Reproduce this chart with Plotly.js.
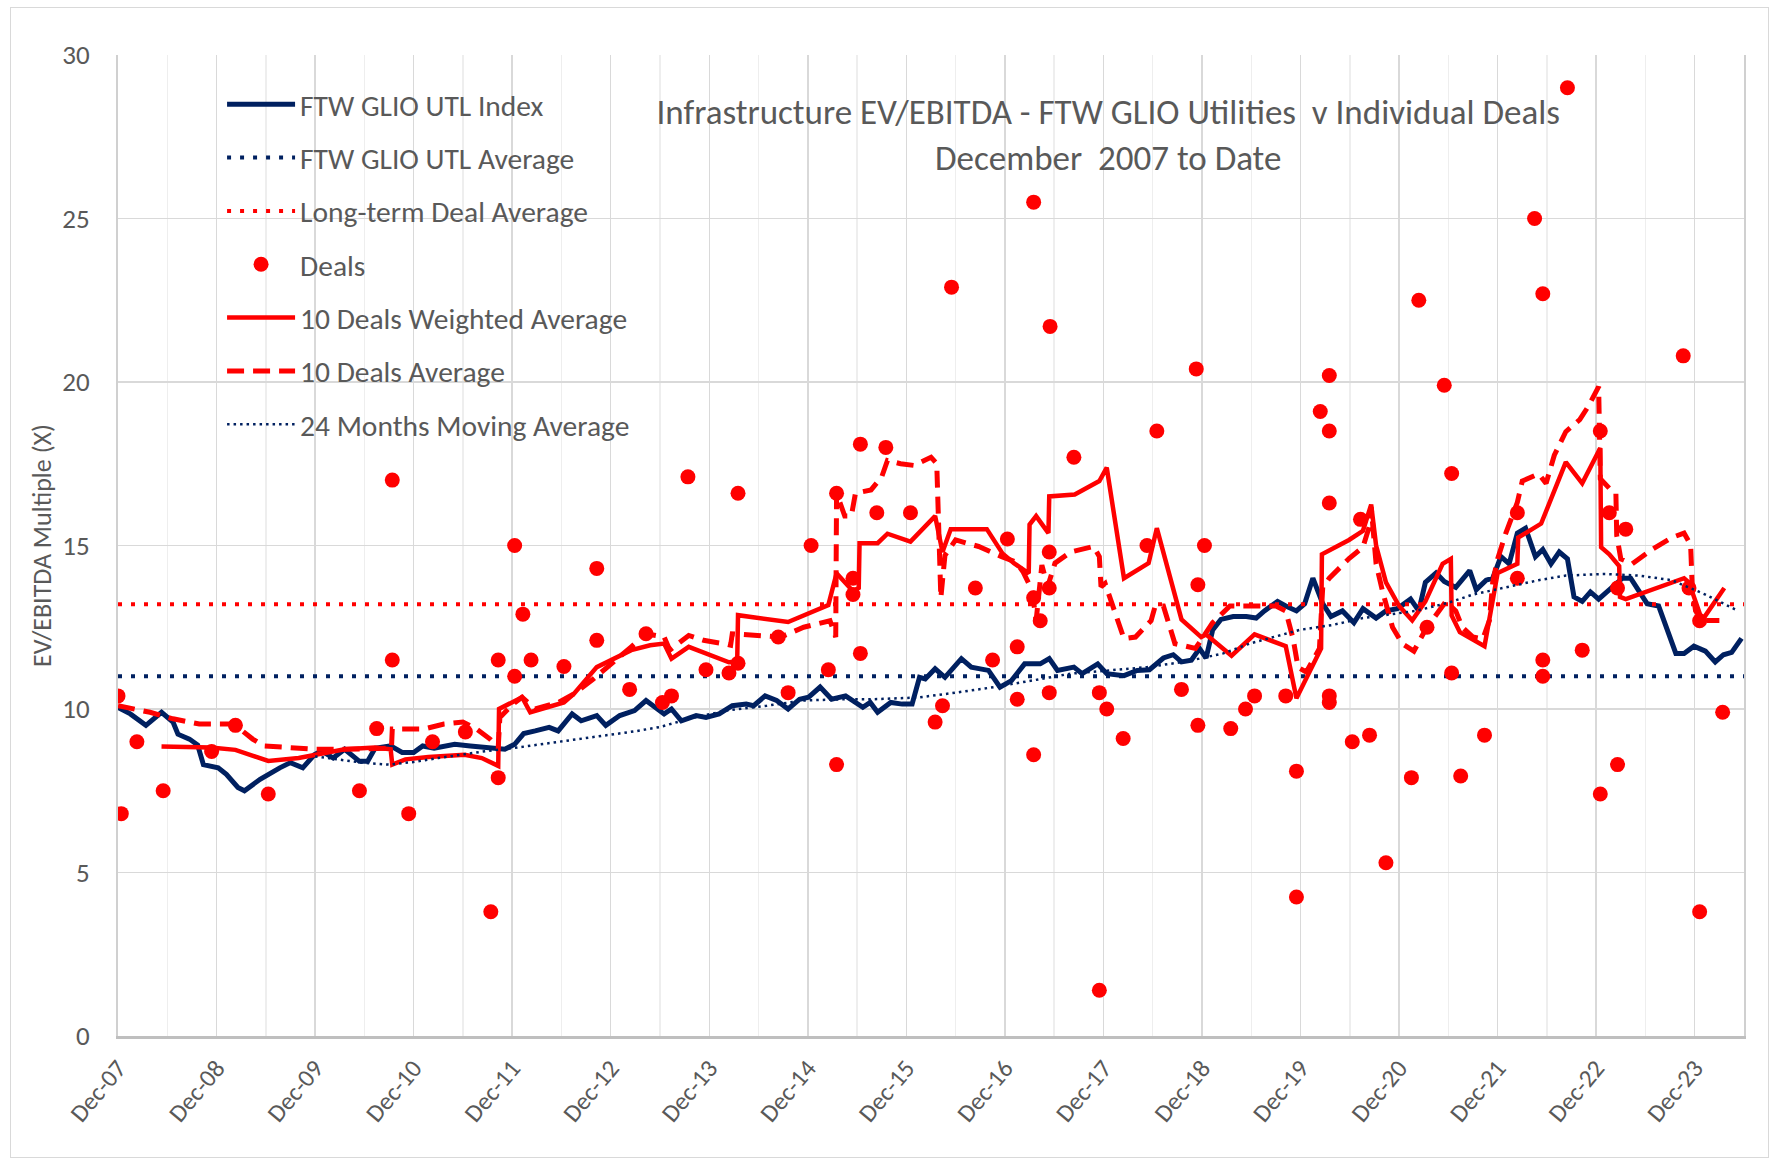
<!DOCTYPE html>
<html>
<head>
<meta charset="utf-8">
<script src="https://cdn.plot.ly/plotly-3.0.1.min.js"></script>
<style>
  html, body { margin: 0; padding: 0; background: #ffffff; }
  #chart { width: 1773px; height: 1162px; }
  #frame { position: absolute; left: 10px; top: 7px; width: 1759px; height: 1151px;
           border: 1px solid #d9d9d9; pointer-events: none; box-sizing: border-box; }
</style>
</head>
<body>
<div id="chart"></div>
<div id="frame"></div>
<script>
// x values are months since December 2007
const tickMonths = [0, 12, 24, 36, 48, 60, 72, 84, 96, 108, 120, 132, 144, 156, 168, 180, 192];
const tickLabels = ['Dec-07','Dec-08','Dec-09','Dec-10','Dec-11','Dec-12','Dec-13','Dec-14','Dec-15',
                    'Dec-16','Dec-17','Dec-18','Dec-19','Dec-20','Dec-21','Dec-22','Dec-23'];

// FTW GLIO UTL Index
const indexMonths = [0,1.5,3.4,4.3,5.3,6.7,7.3,8.7,9.7,10.4,12.2,13.2,14.6,15.4,17.3,19.7,21,22.5,23.9,24.8,
  26.2,27.6,29.4,30.4,31.3,33.2,34.6,36,37.1,38.5,41,42.9,44.3,46.2,47.1,48.3,49.4,50.8,52.5,53.6,
  55.3,56.4,58.3,59.4,61.1,62.9,64.3,66.5,67.4,68.6,70.4,71.6,73.2,74.8,76.5,77.4,78.8,80.2,81.6,83,
  84.1,85.5,86.9,88.6,90.7,91.6,92.5,94.1,95.5,96.7,97.6,98.3,99.5,100.7,102.7,103.9,106,107.4,108.8,110.4,
  112.3,113.4,114.4,116.4,117.4,119.3,120.4,122.5,124.1,125.6,127.3,128.5,129.5,130.7,131.7,132.5,133.3,134.3,135.8,137.4,
  138.6,139.6,141.2,142.2,143.5,144.5,145.5,146.7,147.7,149.1,150.5,151.6,153.2,154.4,155.8,157.4,158.4,159.2,160.5,161.5,
  162.9,164.6,165.4,166.6,167.4,168.4,169.4,170.4,171.4,172.6,173.5,174.5,175.5,176.5,177.3,178.3,179.3,180.3,181.6,183.2,
  184.2,185.2,186.2,187.6,188.6,189.7,190.7,191.9,193.3,194.5,195.5,196.5,197.7];
const indexValues = [10.05,9.85,9.5,9.7,9.9,9.6,9.23,9.08,8.9,8.3,8.2,8.0,7.6,7.5,7.85,8.2,8.36,8.2,8.6,8.72,
  8.5,8.77,8.4,8.4,8.8,8.87,8.67,8.67,8.87,8.8,8.92,8.87,8.84,8.8,8.77,8.92,9.25,9.33,9.44,9.33,
  9.85,9.64,9.8,9.5,9.8,9.95,10.26,9.85,10.0,9.64,9.8,9.74,9.85,10.1,10.15,10.1,10.4,10.26,10.0,10.3,
  10.36,10.67,10.3,10.4,10.05,10.2,9.9,10.2,10.15,10.15,10.97,10.92,11.23,10.97,11.54,11.28,11.18,10.67,10.87,11.38,
  11.38,11.54,11.18,11.28,11.08,11.38,11.08,11.02,11.18,11.2,11.56,11.66,11.44,11.49,11.85,11.56,12.42,12.74,12.83,12.83,
  12.78,13.0,13.29,13.15,13.0,13.22,14.0,13.22,12.83,13.0,12.64,13.07,12.78,13.0,13.07,13.36,13.0,13.87,14.16,13.9,
  13.72,14.23,13.65,13.94,14.0,14.66,14.44,15.38,15.53,14.66,14.88,14.44,14.8,14.59,13.43,13.29,13.58,13.36,13.65,14.0,
  14.0,13.58,13.22,13.15,12.42,11.7,11.7,11.92,11.77,11.44,11.66,11.73,12.16];

// Horizontal averages
const averageSpanMonths = [0, 198];
const utlAverageValues = [11.0, 11.0];
const dealAverageValues = [13.2, 13.2];

// Individual deals
const dealMonths = [0,0.4,2.3,5.5,11.4,14.3,18.3,29.4,31.5,33.4,33.4,35.4,38.3,42.3,45.4,46.3,46.3,48.3,48.3,49.3,
  50.3,54.3,58.3,58.3,62.3,64.3,66.3,67.4,69.4,71.6,74.4,75.5,75.5,80.4,81.6,84.4,86.5,87.5,87.5,89.5,
  89.5,90.4,90.4,92.4,93.5,96.5,99.5,100.4,101.5,104.4,106.5,108.3,109.5,109.5,111.5,111.5,111.5,112.3,113.4,113.4,
  113.4,113.5,116.4,119.5,119.5,120.4,122.4,125.3,126.5,129.5,131.3,131.5,131.5,132.3,135.5,137.3,138.4,142.2,143.5,143.5,
  146.4,147.5,147.5,147.5,147.5,147.5,150.3,151.3,152.4,154.4,157.5,158.4,159.4,161.5,162.4,162.4,163.5,166.4,170.4,170.4,
  172.5,173.5,173.5,173.5,176.5,178.3,180.5,180.5,181.6,182.6,182.6,183.6,190.6,191.3,192.6,192.6,195.4];
const dealValues = [10.4,6.8,9.0,7.5,8.7,9.5,7.4,7.5,9.4,17.0,11.5,6.8,9.0,9.3,3.8,11.5,7.9,15.0,11.0,12.9,
  11.5,11.3,14.3,12.1,10.6,12.3,10.2,10.4,17.1,11.2,11.1,11.4,16.6,12.2,10.5,15.0,11.2,16.6,8.3,14.0,
  13.5,18.1,11.7,16.0,18.0,16.0,9.6,10.1,22.9,13.7,11.5,15.2,11.9,10.3,25.5,13.4,8.6,12.7,14.8,13.7,
  10.5,21.7,17.7,10.5,1.4,10.0,9.1,15.0,18.5,10.6,20.4,13.8,9.5,15.0,9.4,10.0,10.4,10.4,8.1,4.25,
  19.1,20.2,18.5,16.3,10.4,10.2,9.0,15.8,9.2,5.3,7.9,22.5,12.5,19.9,17.2,11.1,7.95,9.2,16.0,14.0,
  25.0,22.7,11.5,11.0,29.0,11.8,18.5,7.4,16.0,13.7,8.3,15.5,20.8,13.7,12.7,3.8,9.9];

// 10 Deals Weighted Average
const weightedMonths = [5.3,11.3,14.3,18.3,22,24.3,27.6,31.3,33.2,33.4,35,37.8,42.2,44.3,46.3,46.4,48.3,49.2,50.2,54.3,
  55.5,58.3,62.5,64.8,66.5,67.4,69.5,74.4,75.4,75.5,81.6,84.4,86.5,87.5,89.5,90.2,90.3,92.5,93.7,96.5,
  99.5,100.4,101.4,105.8,107.7,109.1,110.9,111.0,111.8,113.3,113.4,116.5,119.5,120.4,122.5,125.5,126.5,129.5,131.9,132.5,
  135.6,138.4,142.2,143.5,144.9,146.5,146.6,149.9,151.6,152.6,153.2,154.4,156,157.6,159.2,161.3,162.3,162.4,163.4,166.4,
  168,170.4,170.5,173.3,176.3,178.3,180.5,180.6,181.6,182.8,182.9,183.6,190.7,191.3,192.9,195.6];
const weightedValues = [8.85,8.82,8.75,8.41,8.5,8.6,8.77,8.82,8.77,8.3,8.46,8.53,8.6,8.5,8.26,10.0,10.24,10.36,9.9,10.2,
  10.46,11.28,11.8,11.95,12.0,11.54,11.9,11.43,11.45,12.87,12.66,12.97,13.18,14.15,13.6,13.7,15.07,15.07,15.36,15.12,
  15.9,14.8,15.5,15.5,14.76,14.46,14.15,15.64,15.9,15.38,16.5,16.56,16.97,17.38,14.0,14.46,15.53,12.74,12.2,12.28,
  11.63,12.28,11.92,10.33,11.05,11.85,14.73,15.17,15.45,16.25,15.0,13.87,13.15,12.71,13.29,14.44,14.59,12.86,12.35,11.92,
  14.16,14.44,15.24,15.67,17.55,16.9,17.98,14.95,14.73,14.37,13.43,13.36,14.0,13.87,12.71,13.7];

// 10 Deals Average
const tenDealMonths = [0,3.9,6.7,9.9,14.1,16.4,17.8,21,23.9,27.6,30.4,33.3,33.4,37.3,39.7,42,43.6,45.3,46.3,46.5,
  48.1,49.2,50.8,53.6,55.5,57.8,62.5,64.3,66.5,67.2,69.5,71.3,73.7,74.6,74.8,78.3,80.7,83.5,85.3,86.7,
  87.4,87.5,88.5,89.3,89.8,91.7,93.0,93.7,95.3,96.9,99.0,99.7,100.2,100.7,102,104.8,107.6,109.3,110.2,111.3,
  111.8,112.5,113.2,114.1,116,118.8,119.5,119.7,120.2,121.3,122.5,123.9,125.8,126.3,127.3,128.7,130.1,131.2,133.3,135.4,
  137.8,141,142.2,143.1,143.7,144.7,146.3,146.5,146.7,147.5,149.9,151.6,152.4,152.6,153.2,154,155.2,156.4,157.8,159.2,
  160.9,161.7,162.9,163.7,165,166.2,167,167.4,168,169,170.4,171,173,173.9,174.9,176.3,178,179.1,180.3,180.5,
  181.6,182.4,182.5,183,184.4,186.8,189.2,190.7,191.5,191.7,192.1,192.9,195];
const tenDealValues = [10.1,9.9,9.7,9.54,9.54,9.08,8.87,8.82,8.77,8.77,8.8,8.8,9.39,9.39,9.54,9.6,9.4,9.08,8.82,9.74,
  10.15,10.36,10.0,10.2,10.46,10.9,11.9,12.3,12.2,11.8,12.25,12.1,12.0,11.95,12.3,12.25,12.2,12.5,12.6,12.7,
  12.2,16.6,15.9,15.9,16.6,16.7,17.1,17.6,17.5,17.45,17.7,17.5,13.4,14.7,15.17,14.97,14.66,14.5,14.2,13.64,
  12.7,14.4,13.74,14.46,14.8,14.97,14.66,13.74,13.84,13.0,12.15,12.2,12.7,13.15,13.15,12.0,11.92,11.85,12.64,13.15,
  13.15,13.15,13.0,12.14,11.27,11.13,11.85,13.15,13.72,14.0,14.6,14.95,15.6,16.18,14.44,13.58,12.5,11.99,11.77,12.42,
  13.0,13.29,13.0,12.5,12.2,12.14,12.71,13.87,14.59,15.38,16.32,16.97,17.19,16.9,17.76,18.48,18.85,19.28,19.86,17.04,
  16.75,16.6,15.31,14.59,14.44,14.88,15.24,15.38,15.02,13.72,13.0,12.71,12.71];

// 24 Months Moving Average
const movingAvgMonths = [24,27,30,33,36,39,42,45,48,51,54,57,60,63,66,69.5,74,79,83.4,88.6,
  92,97.4,102,106.7,111.3,116,120.7,125.3,130,134.6,137.8,143.9,147.9,151.6,158,162,165,169,173,176.3,
  181.1,185.2,189.2,193.3,197.3];
const movingAvgValues = [8.55,8.45,8.35,8.3,8.38,8.5,8.62,8.72,8.8,8.9,9.0,9.1,9.2,9.32,9.45,9.7,9.95,10.1,10.26,10.3,
  10.3,10.35,10.5,10.67,10.87,11.08,11.18,11.28,11.45,11.7,12.0,12.42,12.57,12.78,13.0,13.25,13.5,13.72,13.94,14.08,
  14.13,14.08,13.94,13.5,13.0];

const FONT = 'Carlito, Calibri, Lato, sans-serif';
const GREY = '#595959';
const NAVY = '#002060';
const RED = '#ff0000';

const traces = [
  { name: 'FTW GLIO UTL Index', x: indexMonths, y: indexValues, type: 'scatter', mode: 'lines',
    line: { color: NAVY, width: 5 }, legendgroup: 'g1' },
  { name: 'FTW GLIO UTL Average', x: averageSpanMonths, y: utlAverageValues, type: 'scatter', mode: 'lines',
    line: { color: NAVY, width: 4, dash: '4px,9px' }, legendgroup: 'g2' },
  { name: 'Long-term Deal Average', x: averageSpanMonths, y: dealAverageValues, type: 'scatter', mode: 'lines',
    line: { color: RED, width: 4, dash: '4px,9px' }, legendgroup: 'g3' },
  { name: 'Deals', x: dealMonths, y: dealValues, type: 'scatter', mode: 'markers',
    marker: { color: RED, size: 15 }, legendgroup: 'g4' },
  { name: '10 Deals Weighted Average', x: weightedMonths, y: weightedValues, type: 'scatter', mode: 'lines',
    line: { color: RED, width: 4.5 }, legendgroup: 'g5' },
  { name: '10 Deals Average', x: tenDealMonths, y: tenDealValues, type: 'scatter', mode: 'lines',
    line: { color: RED, width: 5, dash: '17px,9px' }, legendgroup: 'g6' },
  { name: '24 Months Moving Average', x: movingAvgMonths, y: movingAvgValues, type: 'scatter', mode: 'lines',
    line: { color: NAVY, width: 2.5, dash: '2.5px,4px' }, legendgroup: 'g7' }
];

const layout = {
  width: 1773, height: 1162,
  margin: { l: 118, r: 29, t: 55, b: 126, autoexpand: false },
  paper_bgcolor: '#ffffff', plot_bgcolor: '#ffffff',
  font: { family: FONT, color: GREY },
  hovermode: false,
  title: {
    text: 'Infrastructure EV/EBITDA - FTW GLIO Utilities  v Individual Deals<br>December  2007 to Date',
    font: { family: FONT, size: 35, color: GREY },
    xref: 'paper', x: 0.609, xanchor: 'center',
    yref: 'container', y: 0.893, yanchor: 'top'
  },
  xaxis: {
    range: [0, 198], tickmode: 'array', tickvals: tickMonths, ticktext: tickLabels,
    tickangle: -50, tickfont: { family: FONT, size: 25, color: GREY },
    ticks: 'outside', ticklen: 5, tickcolor: 'rgba(0,0,0,0)',
    showgrid: true, gridcolor: '#d9d9d9', gridwidth: 1.5,
    minor: { tick0: 0, dtick: 6, showgrid: true, gridcolor: '#eeeeee', gridwidth: 1.5, ticks: '' },
    showline: true, linecolor: '#bfbfbf', linewidth: 2.5, zeroline: false, automargin: false
  },
  yaxis: {
    range: [0, 30], tick0: 0, dtick: 5,
    tickfont: { family: FONT, size: 27, color: GREY },
    ticks: 'outside', ticklen: 21, tickcolor: 'rgba(0,0,0,0)',
    showgrid: true, gridcolor: '#d9d9d9', gridwidth: 1.5,
    showline: true, linecolor: '#d0d0d0', linewidth: 2, mirror: true, zeroline: false, automargin: false,
    title: { text: 'EV/EBITDA Multiple (X)', font: { family: FONT, size: 26, color: GREY }, standoff: 3 }
  },
  showlegend: true,
  legend: {
    x: 0.064, y: 0.976, xanchor: 'left', yanchor: 'top',
    bgcolor: 'rgba(0,0,0,0)', borderwidth: 0,
    font: { family: FONT, size: 29.5, color: GREY },
    traceorder: 'grouped', tracegroupgap: 12, itemwidth: 68
  }
};

Plotly.newPlot('chart', traces, layout, { displayModeBar: false, staticPlot: true });
</script>
</body>
</html>
